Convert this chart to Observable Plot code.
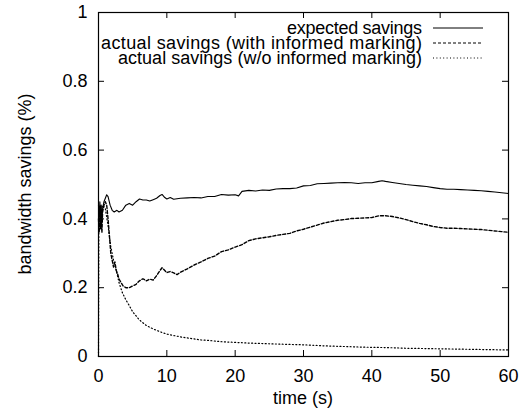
<!DOCTYPE html>
<html>
<head>
<meta charset="utf-8">
<script src="https://cdn.jsdelivr.net/npm/d3@7"></script>
<script src="https://cdn.jsdelivr.net/npm/@observablehq/plot@0.6"></script>
<style>
  html, body { margin: 0; padding: 0; background: #fff; }
  #chart svg { display: block; }
</style>
</head>
<body>
<div id="chart"></div>
<script>
// ---- data ----
const seriesNames = [
  "expected savings",
  "actual savings (with informed marking)",
  "actual savings (w/o informed marking)"
];

const expectedTime = [0,0.1,0.2,0.3,0.4,0.5,0.6,0.8,1.0,1.2,1.4,1.7,2.0,2.3,2.7,3.0,3.5,4.0,4.5,5.0,5.5,6.0,6.5,7.0,7.5,8.0,8.5,9.0,9.3,9.7,10,10.5,11,12,13,14,15,16,17,18,19,20,20.5,21,22,23,24,25,26,27,28,29,30,31,32,33,34,35,36,37,38,39,40,41,41.5,42,43,44,45,46,47,48,49,50,51,52,53,54,55,56,57,58,59,60];
const expectedValue = [0.44,0.40,0.45,0.41,0.44,0.39,0.43,0.45,0.46,0.47,0.465,0.44,0.425,0.42,0.425,0.42,0.425,0.44,0.445,0.44,0.45,0.458,0.455,0.455,0.452,0.456,0.46,0.468,0.471,0.462,0.458,0.462,0.457,0.46,0.461,0.462,0.461,0.465,0.465,0.471,0.469,0.47,0.467,0.48,0.483,0.481,0.484,0.483,0.487,0.488,0.488,0.49,0.496,0.497,0.502,0.503,0.504,0.505,0.506,0.505,0.503,0.505,0.505,0.509,0.511,0.509,0.506,0.503,0.5,0.498,0.496,0.494,0.491,0.488,0.486,0.486,0.485,0.484,0.483,0.482,0.48,0.478,0.476,0.474];

const informedTime = [0,0.1,0.2,0.3,0.4,0.5,0.6,0.8,1.0,1.2,1.4,1.6,1.8,2.0,2.2,2.4,2.6,2.8,3.0,3.3,3.6,4.0,4.5,5.0,5.5,6.0,6.5,7.0,7.5,8.0,8.5,9.0,9.3,9.7,10,10.5,11,11.5,12,13,14,15,16,17,18,19,20,21,22,23,24,25,26,27,28,29,30,31,32,33,34,35,36,37,38,39,40,41,42,43,44,45,46,47,48,49,50,51,52,53,54,55,56,57,58,59,60];
const informedValue = [0.40,0.36,0.43,0.37,0.41,0.36,0.42,0.44,0.45,0.44,0.40,0.35,0.30,0.28,0.26,0.275,0.25,0.24,0.225,0.215,0.205,0.2,0.2,0.205,0.21,0.22,0.226,0.22,0.225,0.222,0.235,0.25,0.258,0.25,0.244,0.247,0.243,0.238,0.245,0.255,0.266,0.275,0.285,0.292,0.305,0.31,0.318,0.325,0.337,0.342,0.345,0.348,0.352,0.355,0.358,0.365,0.37,0.376,0.382,0.388,0.392,0.396,0.398,0.401,0.402,0.403,0.404,0.409,0.409,0.407,0.403,0.398,0.392,0.387,0.383,0.378,0.375,0.373,0.373,0.372,0.371,0.37,0.369,0.367,0.365,0.363,0.361];

const uninformedTime = [0,0.05,0.3,0.6,1.0,1.4,1.8,2.2,2.6,3.0,3.5,4.0,4.5,5.0,5.5,6.0,7,8,9,10,11,12,13,14,15,16,18,20,22,25,28,30,33,36,39,42,45,48,51,54,57,60];
const uninformedValue = [0.0,0.38,0.42,0.44,0.43,0.38,0.32,0.28,0.25,0.215,0.185,0.165,0.148,0.13,0.118,0.106,0.09,0.08,0.072,0.065,0.061,0.057,0.054,0.051,0.048,0.047,0.043,0.041,0.039,0.037,0.035,0.034,0.031,0.029,0.027,0.026,0.024,0.023,0.022,0.021,0.02,0.019];

const xTicks = [0, 10, 20, 30, 40, 50, 60];
const yTicks = [0, 0.2, 0.4, 0.6, 0.8, 1];
const xTitle = "time (s)";
const yTitle = "bandwidth savings (%)";

// ---- tables built from the arrays ----
const toRows = (ts, vs) => ts.map((t, i) => ({t, v: vs[i]}));
const expectedRows = toRows(expectedTime, expectedValue);
const informedRows = toRows(informedTime, informedValue);
const uninformedRows = toRows(uninformedTime, uninformedValue);

const dashes = ["none", "3,2", "1,2.4"];
const legendWidths = [135, 321, 304];   // rendered text widths in the reference
const legendRows = seriesNames.map((name, i) => ({name, dash: dashes[i], width: legendWidths[i]}));

// ---- layout ----
const W = 525, H = 411;
const mL = 98, mR = 17, mT = 12, mB = 55;
const tickLen = 6;
const font = "'Liberation Sans', Arial, Helvetica, sans-serif";
const fontSize = 18;

function decorations(index, scales, values, dim) {
  const g = d3.create("svg:g")
    .attr("font-family", font)
    .attr("font-size", fontSize)
    .attr("fill", "black");
  const right = dim.width - dim.marginRight;
  const top = dim.marginTop;
  // legend
  legendRows.forEach((r, i) => {
    const y = top + 16 + i * 15;
    g.append("text")
      .attr("x", right - 86).attr("y", y)
      .attr("dy", "0.35em")
      .attr("text-anchor", "end")
      .attr("textLength", r.width)
      .attr("lengthAdjust", "spacing")
      .text(r.name);
    g.append("line")
      .attr("x1", right - 75).attr("x2", right - 25)
      .attr("y1", y).attr("y2", y)
      .attr("stroke", "black")
      .attr("stroke-width", 1)
      .attr("stroke-dasharray", r.dash === "none" ? null : r.dash);
  });
  // axis titles
  const cx = (dim.marginLeft + right) / 2;
  g.append("text")
    .attr("x", cx).attr("y", dim.height - 7)
    .attr("text-anchor", "middle")
    .text(xTitle);
  const cy = (top + dim.height - dim.marginBottom) / 2;
  g.append("text")
    .attr("transform", `translate(31,${cy}) rotate(-90)`)
    .attr("text-anchor", "middle")
    .text(yTitle);
  return g.node();
}

const innerW = W - mL - mR, innerH = H - mT - mB;

const chart = Plot.plot({
  width: W,
  height: H,
  marginLeft: mL,
  marginRight: mR,
  marginTop: mT,
  marginBottom: mB,
  style: {fontFamily: font, fontSize: fontSize + "px", color: "black", background: "white", overflow: "visible"},
  x: {domain: [0, 60], label: null},
  y: {domain: [0, 1], label: null},
  marks: [
    Plot.line(uninformedRows, {x: "t", y: "v", stroke: "black", strokeWidth: 1.2, strokeDasharray: dashes[2]}),
    Plot.line(informedRows, {x: "t", y: "v", stroke: "black", strokeWidth: 1.4, strokeDasharray: dashes[1]}),
    Plot.line(expectedRows, {x: "t", y: "v", stroke: "black", strokeWidth: 1.1}),
    Plot.tickY(yTicks, {y: d => d, stroke: "black", insetRight: innerW - tickLen}),
    Plot.tickY(yTicks, {y: d => d, stroke: "black", insetLeft: innerW - tickLen}),
    Plot.tickX(xTicks, {x: d => d, stroke: "black", insetTop: innerH - tickLen}),
    Plot.tickX(xTicks, {x: d => d, stroke: "black", insetBottom: innerH - tickLen}),
    Plot.frame({stroke: "black", strokeWidth: 1.2}),
    Plot.axisX({ticks: xTicks, tickSize: 0, tickPadding: 13, label: null, tickFormat: d => String(d)}),
    Plot.axisY({ticks: yTicks, tickSize: 0, tickPadding: 11, label: null, tickFormat: d => String(d)}),
    decorations
  ]
});

document.getElementById("chart").appendChild(chart);
</script>
</body>
</html>
